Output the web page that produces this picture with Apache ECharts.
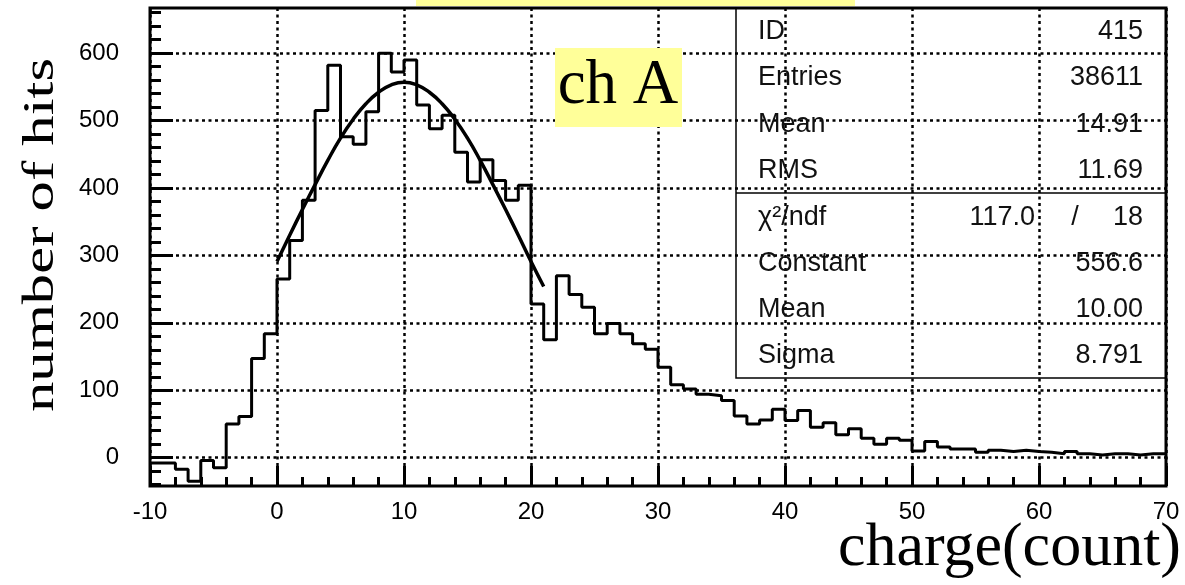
<!DOCTYPE html>
<html>
<head>
<meta charset="utf-8">
<script src="https://cdn.jsdelivr.net/npm/echarts@6/dist/echarts.min.js"></script>
<style>
    html, body { margin: 0; padding: 0; background: #fff; }
    #chart { width: 1185px; height: 585px; }
</style>
</head>
<body>
<div id="chart"></div>
<script>
// histogram 415, 1-count bins starting at -10
const binStart = -10;
const binWidth = 1;
const binCounts = [
    -8, -8, -17, -35, -4, -15, 50, 61, 147, 184,
    265, 322, 382, 515, 582, 476, 465, 513, 600, 572,
    590, 523, 488, 508, 453, 409, 442, 411, 382, 404,
    228, 175, 270, 242, 223, 184, 199, 184, 169, 161,
    134, 108, 102, 94, 92, 85, 62, 50, 56, 72,
    55, 70, 45, 52, 34, 43, 29, 20, 29, 26,
    10, 24, 16, 13, 13, 8, 11, 9, 11, 9,
    8, 6, 9, 6, 4, 6, 6, 4, 6, 6,
];

// gaussian fit curve as drawn (read at each integer charge)
const fitX = [0, 1, 2, 3, 4, 5, 6, 7, 8, 9, 10, 11, 12, 13, 14, 15, 16, 17, 18, 19, 20, 21];
const fitY = [291, 330, 368, 405, 441, 474, 502, 525, 542, 553, 557, 553, 542, 525, 502, 474, 441, 405, 368, 330, 291, 254];

const yTickValues = [0, 100, 200, 300, 400, 500, 600];
const yMinorTickValues = [-40, -20, 20, 40, 60, 80, 120, 140, 160, 180, 220, 240, 260, 280,
    320, 340, 360, 380, 420, 440, 460, 480, 520, 540, 560, 580, 620, 640, 660];

const statLabels = ["ID", "Entries", "Mean", "RMS", "χ²/ndf", "Constant", "Mean", "Sigma"];
const statValues = ["415", "38611", "14.91", "11.69", "18", "556.6", "10.00", "8.791"];
const chi2Value = "117.0";

const sans = "'Liberation Sans', Arial, Helvetica, sans-serif";
const serif = "'Liberation Serif', 'Times New Roman', serif";

const histData = binCounts.map((c, i) => [binStart + i * binWidth, c]);
histData.push([binStart + binCounts.length * binWidth, binCounts[binCounts.length - 1]]);
const fitData = fitX.map((x, i) => [x, fitY[i]]);

const gridDots = { color: "#000", width: 2.5, type: [3, 3.5] };

// stats box rows
const rowY = [32, 78, 125, 171, 218, 264, 310, 356];
const statGraphics = [];
statLabels.forEach((label, i) => {
    statGraphics.push({
        type: "text", x: 758, y: rowY[i], z: 10,
        style: { text: label, font: `27px ${sans}`, fill: "#111", align: "left", verticalAlign: "middle" },
    });
    statGraphics.push({
        type: "text", x: 1143, y: rowY[i], z: 10,
        style: { text: statValues[i], font: `27px ${sans}`, fill: "#111", align: "right", verticalAlign: "middle" },
    });
});
statGraphics.push({
    type: "text", x: 1035, y: rowY[4], z: 10,
    style: { text: chi2Value, font: `27px ${sans}`, fill: "#111", align: "right", verticalAlign: "middle" },
});
statGraphics.push({
    type: "text", x: 1075, y: rowY[4], z: 10,
    style: { text: "/", font: `27px ${sans}`, fill: "#111", align: "center", verticalAlign: "middle" },
});

const chart = echarts.init(document.getElementById("chart"), null, { renderer: "canvas" });

const option = {
    animation: false,
    backgroundColor: "#fff",
    grid: {
        left: 150, right: 19, top: 8, bottom: 99,
        containLabel: false,
        outerBoundsMode: "none",
        show: true, borderColor: "#000", borderWidth: 3,
    },
    xAxis: {
        type: "value",
        min: -10, max: 70, interval: 10,
        axisLine: { show: false, onZero: false },
        axisTick: { show: true, inside: true, length: 20, lineStyle: { color: "#000", width: 3 } },
        minorTick: { show: true, splitNumber: 5, length: 9, lineStyle: { color: "#000", width: 3 } },
        axisLabel: { fontFamily: sans, fontSize: 24, color: "#000", margin: 14 },
        splitLine: { show: true, lineStyle: gridDots },
    },
    yAxis: [
        {
            type: "value",
            min: -42, max: 667,
            axisLine: { show: false, onZero: false },
            axisTick: { show: true, inside: true, length: 23, customValues: yTickValues, lineStyle: { color: "#000", width: 3 } },
            axisLabel: { fontFamily: sans, fontSize: 24, color: "#000", margin: 31, customValues: yTickValues },
            splitLine: { show: true, lineStyle: gridDots },
        },
        {
            type: "value",
            position: "left",
            min: -42, max: 667,
            axisLine: { show: false, onZero: false },
            axisTick: { show: true, inside: true, length: 11, customValues: yMinorTickValues, lineStyle: { color: "#000", width: 3 } },
            axisLabel: { show: false },
            splitLine: { show: false },
        },
    ],
    graphic: [
        // title strip cut off at the top
        { type: "rect", shape: { x: 416, y: 0, width: 439, height: 6 }, style: { fill: "#ffff99" }, z: 5 },
        // ch A label
        { type: "rect", shape: { x: 555, y: 48, width: 127, height: 79 }, style: { fill: "#ffff99" }, z: 5 },
        {
            type: "text", x: 618, y: 86, z: 6,
            style: { text: "ch A", font: `63px ${serif}`, fill: "#000", align: "center", verticalAlign: "middle" },
        },
        // stats box
        {
            type: "rect", shape: { x: 736, y: 8, width: 430, height: 370 }, z: 9,
            style: { fill: "none", stroke: "#000", lineWidth: 1.5 },
        },
        {
            type: "line", shape: { x1: 736, y1: 193, x2: 1166, y2: 193 }, z: 9,
            style: { stroke: "#000", lineWidth: 1.5 },
        },
        ...statGraphics,
        // axis titles
        {
            type: "text", x: 41, y: 235, rotation: Math.PI / 2, scaleX: 1.38, z: 6,
            style: { text: "number of hits", font: `44px ${serif}`, fill: "#000", align: "center", verticalAlign: "middle" },
        },
        {
            type: "text", x: 1181, y: 549, z: 6,
            style: { text: "charge(count)", font: `62px ${serif}`, fill: "#000", align: "right", verticalAlign: "middle" },
        },
    ],
    series: [
        {
            name: "charge",
            type: "line",
            step: "end",
            data: histData,
            showSymbol: false,
            lineStyle: { color: "#000", width: 3 },
            z: 3,
        },
        {
            name: "gaus fit",
            type: "line",
            smooth: true,
            data: fitData,
            showSymbol: false,
            lineStyle: { color: "#000", width: 3.5 },
            z: 4,
        },
    ],
};

chart.setOption(option);
</script>
</body>
</html>
